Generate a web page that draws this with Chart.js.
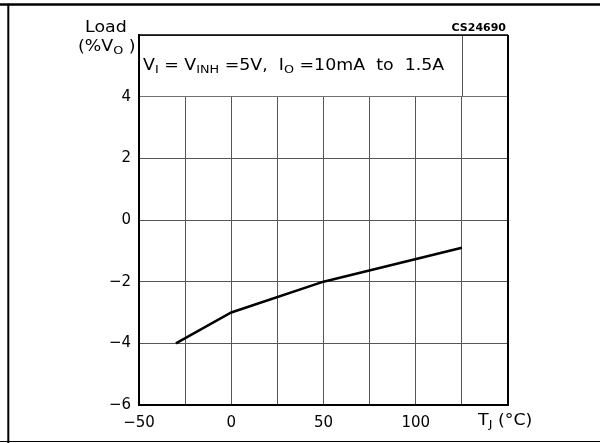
<!DOCTYPE html>
<html>
<head>
<meta charset="utf-8">
<script src="https://cdn.jsdelivr.net/npm/chart.js@4.4.1/dist/chart.umd.min.js"></script>
<style>
body {
    margin: 0;
    background: #ffffff;
}
#wrap {
    width: 600px;
    height: 443px;
}
</style>
</head>
<body>
<div id="wrap">
    <canvas id="loadChart" width="600" height="443"></canvas>
</div>
<script>

// junction temperature (°C) and load regulation (%VO)
let tempValues = [
    -30,
    0,
    50,
    125
];

let loadValues = [
    -4,
    -3,
    -2,
    -0.9
];

// which ticks get a printed label
let xTickValues = [
    -50,
    0,
    50,
    100
];

let yTickValues = [
    -6,
    -4,
    -2,
    0,
    2,
    4
];

let fontName =
    "'DejaVu Sans', sans-serif";

// the drawing lettering is a bit wider than DejaVu
let stretch = 1.16;

function minusSign(v)
{
    return String(v).replace(
        "-",
        "\u2212"
    );
}

// writes a run of text pieces, some of them as subscripts
function drawRich(
    ctx,
    parts,
    x,
    y,
    size
)
{
    ctx.save();
    ctx.scale(stretch, 1);

    ctx.textAlign = "left";
    ctx.textBaseline = "middle";
    ctx.fillStyle = "#000";

    let cx = x / stretch;

    parts.forEach(p => {

        if (p.sub) {
            ctx.font =
                Math.round(size * 0.7) + "px " + fontName;
            ctx.fillText(
                p.t,
                cx,
                y + size * 0.3
            );
        } else {
            ctx.font =
                size + "px " + fontName;
            ctx.fillText(
                p.t,
                cx,
                y
            );
        }

        cx += ctx.measureText(p.t).width;
    });

    ctx.restore();
}

let frameText = {

    id: "frameText",

    beforeDatasetsDraw(chart)
    {
        let ctx = chart.ctx;
        let area = chart.chartArea;
        let xs = chart.scales.x;
        let ys = chart.scales.y;
        let y4 = ys.getPixelForValue(4);

        ctx.save();

        // clear the strip above the top gridline for the condition box
        ctx.fillStyle = "#ffffff";
        ctx.fillRect(
            area.left + 1,
            area.top + 1,
            area.right - area.left - 2,
            y4 - area.top - 1.5
        );

        let x125 = Math.round(xs.getPixelForValue(125)) + 0.5;
        ctx.strokeStyle = "#555";
        ctx.lineWidth = 1;
        ctx.beginPath();
        ctx.moveTo(x125, area.top);
        ctx.lineTo(x125, y4);
        ctx.stroke();

        drawRich(
            ctx,
            [
                { t: "V" },
                { t: "I", sub: true },
                { t: " = " },
                { t: "V" },
                { t: "INH", sub: true },
                { t: " =5V,  " },
                { t: "I" },
                { t: "O", sub: true },
                { t: " =10mA  to  1.5A" }
            ],
            area.left + 4,
            (area.top + y4) / 2,
            15
        );

        ctx.restore();
    },

    afterDraw(chart)
    {
        let ctx = chart.ctx;
        let area = chart.chartArea;
        let xs = chart.scales.x;

        ctx.save();
        ctx.strokeStyle = "#000";

        // plot box: top and right edges
        ctx.lineWidth = 1.5;
        ctx.beginPath();
        ctx.moveTo(area.left, area.top);
        ctx.lineTo(area.right, area.top);
        ctx.stroke();

        ctx.lineWidth = 2;
        ctx.beginPath();
        ctx.moveTo(area.right, area.top);
        ctx.lineTo(area.right, area.bottom + 1);
        ctx.stroke();

        // outer page frame
        ctx.lineWidth = 2.5;
        ctx.beginPath();
        ctx.moveTo(0, 4.5);
        ctx.lineTo(600, 4.5);
        ctx.stroke();

        ctx.lineWidth = 2;
        ctx.beginPath();
        ctx.moveTo(8.3, 4);
        ctx.lineTo(8.3, 443);
        ctx.stroke();

        ctx.lineWidth = 1.2;
        ctx.beginPath();
        ctx.moveTo(0, 441.5);
        ctx.lineTo(600, 441.5);
        ctx.stroke();

        // axis titles
        drawRich(
            ctx,
            [ { t: "Load" } ],
            85,
            28,
            15
        );

        drawRich(
            ctx,
            [
                { t: "(%V" },
                { t: "O", sub: true },
                { t: " )" }
            ],
            78,
            47,
            15
        );

        drawRich(
            ctx,
            [
                { t: "T" },
                { t: "J", sub: true },
                { t: " (\u00b0C)" }
            ],
            xs.getPixelForValue(150) - 30,
            421,
            15
        );

        ctx.font = "bold 11px " + fontName;
        ctx.textAlign = "right";
        ctx.textBaseline = "middle";
        ctx.fillStyle = "#000";
        ctx.fillText(
            "CS24690",
            area.right - 2,
            28
        );

        ctx.restore();
    }
};

let points = [];

tempValues.forEach((t, i) => {

    points.push({
        x: t,
        y: loadValues[i]
    });

});

new Chart(
    document.getElementById(
        "loadChart"
    ),
    {
        type: "line",

        data: {
            datasets: [{
                data: points,
                borderColor: "#000",
                borderWidth: 2.5,
                pointRadius: 0,
                tension: 0,
                fill: false
            }]
        },

        options: {
            responsive: false,
            animation: false,
            devicePixelRatio: 1,

            layout: {
                padding: {
                    top: 35,
                    right: 92,
                    left: 0,
                    bottom: 0
                }
            },

            plugins: {
                legend: { display: false },
                tooltip: { enabled: false }
            },

            scales: {
                x: {
                    type: "linear",
                    min: -50,
                    max: 150,
                    afterFit(scale) {
                        scale.height = 38;
                    },
                    grid: {
                        color: "#555",
                        lineWidth: 1,
                        drawTicks: false
                    },
                    border: {
                        color: "#000",
                        width: 2
                    },
                    ticks: {
                        stepSize: 25,
                        autoSkip: false,
                        maxRotation: 0,
                        padding: 9,
                        color: "#000",
                        font: {
                            family: fontName,
                            size: 15
                        },
                        callback: function(v) {
                            if (xTickValues.includes(v)) {
                                return minusSign(v);
                            }
                            return "";
                        }
                    }
                },

                y: {
                    min: -6,
                    max: 6,
                    afterFit(scale) {
                        scale.width = 139;
                    },
                    grid: {
                        color: "#555",
                        lineWidth: 1,
                        drawTicks: false
                    },
                    border: {
                        color: "#000",
                        width: 2
                    },
                    ticks: {
                        stepSize: 2,
                        padding: 8,
                        color: "#000",
                        font: {
                            family: fontName,
                            size: 15
                        },
                        callback: function(v) {
                            if (yTickValues.includes(v)) {
                                return minusSign(v);
                            }
                            return "";
                        }
                    }
                }
            }
        },

        plugins: [frameText]
    }
);

</script>
</body>
</html>
